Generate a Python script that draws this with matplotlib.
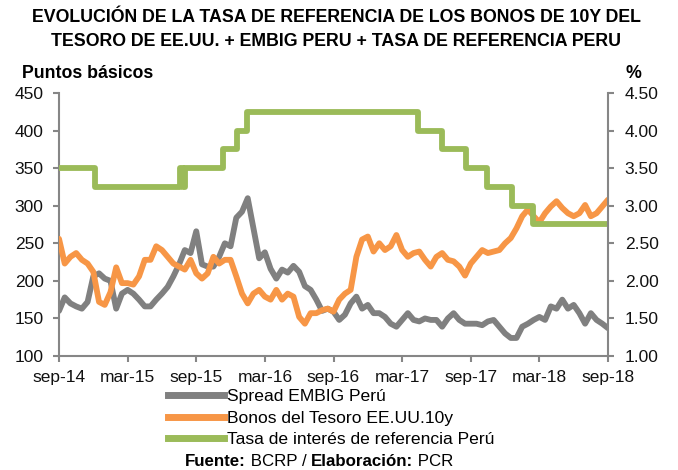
import matplotlib
matplotlib.use("Agg")
import matplotlib.pyplot as plt
from matplotlib.lines import Line2D

# x axis: months since sep-2014, one point every half month
months = [i * 0.5 for i in range(97)]
tick_pos = [0, 6, 12, 18, 24, 30, 36, 42, 48]
tick_labels = ["sep-14", "mar-15", "sep-15", "mar-16", "sep-16",
               "mar-17", "sep-17", "mar-18", "sep-18"]

# Spread EMBIG Peru (puntos basicos, left axis)
embig = [160, 178, 170, 166, 163, 172, 206, 210, 203, 200,
         163, 183, 188, 183, 175, 166, 166, 175, 183, 192,
         206, 222, 241, 237, 266, 222, 219, 219, 232, 250,
         246, 284, 292, 310, 270, 230, 238, 216, 203, 215,
         211, 220, 212, 193, 188, 175, 160, 163, 159, 148,
         155, 170, 179, 163, 168, 157, 157, 152, 143, 139,
         148, 157, 148, 146, 150, 148, 148, 139, 150, 157,
         148, 143, 143, 143, 141, 146, 148, 139, 130, 124,
         124, 139, 143, 148, 152, 148, 166, 163, 175, 163,
         168, 157, 143, 157, 148, 143, 137]

# Bonos del Tesoro EE.UU. 10y (%, right axis)
ust10 = [2.56, 2.23, 2.32, 2.37, 2.28, 2.23, 2.12, 1.72, 1.68, 1.85,
         2.18, 1.97, 1.97, 1.95, 2.06, 2.28, 2.28, 2.46, 2.41, 2.32,
         2.23, 2.19, 2.15, 2.28, 2.10, 2.03, 2.10, 2.32, 2.23, 2.28,
         2.28, 2.06, 1.83, 1.70, 1.83, 1.88, 1.79, 1.75, 1.88, 1.75,
         1.83, 1.79, 1.52, 1.43, 1.57, 1.57, 1.61, 1.63, 1.59, 1.75,
         1.83, 1.88, 2.32, 2.55, 2.59, 2.39, 2.50, 2.41, 2.46, 2.61,
         2.41, 2.32, 2.37, 2.39, 2.28, 2.19, 2.32, 2.37, 2.28, 2.26,
         2.19, 2.07, 2.23, 2.32, 2.41, 2.37, 2.39, 2.41, 2.50, 2.57,
         2.70, 2.86, 2.95, 2.86, 2.78, 2.90, 2.99, 3.06, 2.97, 2.90,
         2.86, 2.90, 3.01, 2.86, 2.90, 2.99, 3.08]

# Tasa de interes de referencia Peru (%, right axis) - step changes
tasa_x = [0, 3.15, 10.6, 10.8, 11.0, 14.3, 15.6, 16.4, 31.4, 33.5, 35.6, 37.4, 39.6, 41.4, 48]
tasa_y = [3.50, 3.25, 3.50, 3.25, 3.50, 3.75, 4.00, 4.25, 4.00, 3.75, 3.50, 3.25, 3.00, 2.75, 2.75]

c_gray = "#808080"
c_orange = "#F79646"
c_green = "#9BBB59"
c_axis = "#868686"

plt.rcParams["font.family"] = ["Liberation Sans", "DejaVu Sans"]

fig = plt.figure(figsize=(6.78, 4.70), dpi=100)
ax = fig.add_axes([59 / 678, 1 - 356 / 470, (608 - 59) / 678, (356 - 93) / 470])
ax2 = ax.twinx()

ax.plot(months, embig, color=c_gray, lw=4.2, solid_capstyle="round")
ax2.plot(months, ust10, color=c_orange, lw=4.2, solid_capstyle="round")
ax2.step(tasa_x, tasa_y, where="post", color=c_green, lw=4.2)

ax.set_xlim(0, 48)
ax.set_ylim(100, 450)
ax2.set_ylim(1.0, 4.5)
ax.set_yticks(range(100, 451, 50))
ax2.set_yticks([1.0, 1.5, 2.0, 2.5, 3.0, 3.5, 4.0, 4.5])
ax2.set_yticklabels(["%.2f" % v for v in ax2.get_yticks()])
ax.set_xticks(tick_pos)
ax.set_xticklabels(tick_labels)

for a in (ax, ax2):
    for s in a.spines.values():
        s.set_visible(False)
ax.spines["left"].set_visible(True)
ax.spines["bottom"].set_visible(True)
ax2.spines["right"].set_visible(True)
for s in (ax.spines["left"], ax.spines["bottom"], ax2.spines["right"]):
    s.set_color(c_axis)
    s.set_linewidth(1.5)

ax.tick_params(axis="y", direction="out", length=4, width=1.5, color=c_axis,
               labelsize=12.5, labelcolor="#111111", pad=7)
ax.tick_params(axis="x", direction="out", length=4, width=1.5, color=c_axis,
               labelsize=12.5, labelcolor="#111111", pad=6)
ax2.tick_params(axis="y", direction="out", length=4, width=1.5, color=c_axis,
                labelsize=12.5, labelcolor="#111111", pad=8)

fig.text(336 / 678, 1 - 18 / 470, "EVOLUCIÓN DE LA TASA DE REFERENCIA DE LOS BONOS DE 10Y DEL",
         ha="center", va="center", fontsize=12.8, fontweight="bold")
fig.text(336 / 678, 1 - 42 / 470, "TESORO DE EE.UU. + EMBIG PERU + TASA DE REFERENCIA PERU",
         ha="center", va="center", fontsize=12.8, fontweight="bold")
fig.text(22 / 678, 1 - 74 / 470, "Puntos básicos", ha="left", va="center",
         fontsize=12.8, fontweight="bold")
fig.text(625 / 678, 1 - 74 / 470, "%", ha="left", va="center",
         fontsize=12.8, fontweight="bold")

handles = [Line2D([], [], color=c_gray, lw=5),
           Line2D([], [], color=c_orange, lw=5),
           Line2D([], [], color=c_green, lw=5)]
labels = ["Spread EMBIG Perú", "Bonos del Tesoro EE.UU.10y",
          "Tasa de interés de referencia Perú"]
fig.legend(handles, labels, loc="upper left", bbox_to_anchor=(168 / 678, 1 - 389 / 470),
           frameon=False, borderpad=0, borderaxespad=0, handlelength=3.2,
           handletextpad=0.15, labelspacing=0.36,
           prop={"size": 12.6})

# footer with mixed bold / normal pieces
t1 = fig.text(185 / 678, 1 - 462 / 470, "Fuente:", ha="left", va="center",
              fontsize=12.2, fontweight="bold")
t2 = ax.annotate(" BCRP / ", xycoords=t1, xy=(1, 0), va="bottom",
                 fontsize=12.2, annotation_clip=False)
t3 = ax.annotate("Elaboración:", xycoords=t2, xy=(1, 0), va="bottom",
                 fontsize=12.2, fontweight="bold", annotation_clip=False)
t4 = ax.annotate(" PCR", xycoords=t3, xy=(1, 0), va="bottom",
                 fontsize=12.2, annotation_clip=False)

fig.savefig("out.png", dpi=100)
